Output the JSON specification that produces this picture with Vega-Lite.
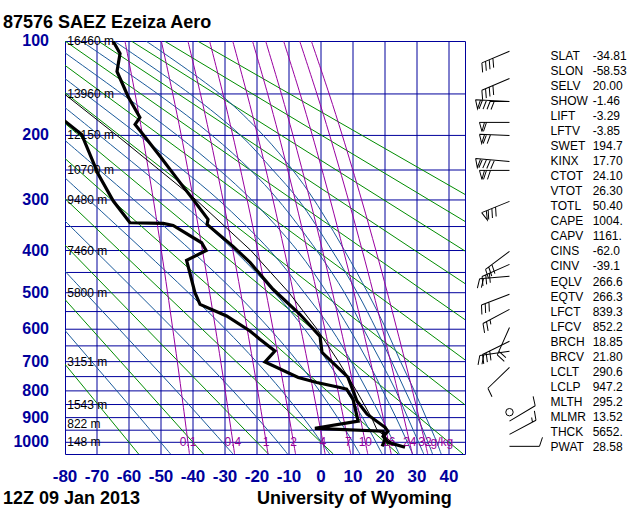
{
"$schema": "https://vega.github.io/schema/vega-lite/v6.json",
"width": 400, "height": 413,
"autosize": {"type": "none"},
"padding": {"left": 65, "top": 41, "right": 175, "bottom": 58},
"background": "white",
"config": {"view": {"stroke": "#00009C", "strokeWidth": 1}, "font": "Liberation Sans"},
"datasets": {
"hgrid": [{"p":150},{"p":200},{"p":250},{"p":300},{"p":350},{"p":400},{"p":450},{"p":500},{"p":550},{"p":600},{"p":650},{"p":700},{"p":750},{"p":800},{"p":850},{"p":900},{"p":950},{"p":1000}],
"vgrid": [{"T":-70},{"T":-60},{"T":-50},{"T":-40},{"T":-30},{"T":-20},{"T":-10},{"T":0},{"T":10},{"T":20},{"T":30},{"T":40}],
"ylab": [{"p":100,"lab":"100"},{"p":200,"lab":"200"},{"p":300,"lab":"300"},{"p":400,"lab":"400"},{"p":500,"lab":"500"},{"p":600,"lab":"600"},{"p":700,"lab":"700"},{"p":800,"lab":"800"},{"p":900,"lab":"900"},{"p":1000,"lab":"1000"}],
"xlab": [{"T":-80,"lab":"-80"},{"T":-70,"lab":"-70"},{"T":-60,"lab":"-60"},{"T":-50,"lab":"-50"},{"T":-40,"lab":"-40"},{"T":-30,"lab":"-30"},{"T":-20,"lab":"-20"},{"T":-10,"lab":"-10"},{"T":0,"lab":"0"},{"T":10,"lab":"10"},{"T":20,"lab":"20"},{"T":30,"lab":"30"},{"T":40,"lab":"40"}],
"dry": [
{"th":-60,"p":1050,"T":-57.0},{"th":-60,"p":100,"T":-162.82},
{"th":-40,"p":1050,"T":-36.72},{"th":-40,"p":100,"T":-152.46},
{"th":-20,"p":1050,"T":-16.44},{"th":-20,"p":100,"T":-142.11},
{"th":0,"p":1050,"T":3.85},{"th":0,"p":100,"T":-131.76},
{"th":20,"p":1050,"T":24.13},{"th":20,"p":100,"T":-121.41},
{"th":40,"p":1050,"T":44.41},{"th":40,"p":100,"T":-111.05},
{"th":60,"p":1050,"T":64.69},{"th":60,"p":100,"T":-100.70},
{"th":80,"p":1050,"T":84.97},{"th":80,"p":100,"T":-90.35},
{"th":100,"p":1050,"T":105.25},{"th":100,"p":100,"T":-80.0},
{"th":120,"p":1050,"T":125.54},{"th":120,"p":100,"T":-69.64},
{"th":140,"p":1050,"T":145.82},{"th":140,"p":100,"T":-59.29},
{"th":160,"p":1050,"T":166.10},{"th":160,"p":100,"T":-48.94},
{"th":180,"p":1050,"T":186.38},{"th":180,"p":100,"T":-38.59}],
"moist": [
{"te":-50,"p":1050,"T":-47.0},{"te":-50,"p":1000,"T":-50.1},{"te":-50,"p":900,"T":-56.62},{"te":-50,"p":800,"T":-63.8},{"te":-50,"p":700,"T":-71.64},{"te":-50,"p":600,"T":-80.33},{"te":-50,"p":500,"T":-90.1},
{"te":-30,"p":1050,"T":-27.51},{"te":-30,"p":1000,"T":-30.75},{"te":-30,"p":900,"T":-37.65},{"te":-30,"p":800,"T":-45.2},{"te":-30,"p":700,"T":-53.67},{"te":-30,"p":600,"T":-63.05},{"te":-30,"p":500,"T":-73.72},{"te":-30,"p":400,"T":-86.06},
{"te":-10,"p":1050,"T":-10.45},{"te":-10,"p":1000,"T":-13.4},{"te":-10,"p":900,"T":-20.0},{"te":-10,"p":800,"T":-27.49},{"te":-10,"p":700,"T":-36.16},{"te":-10,"p":600,"T":-46.03},{"te":-10,"p":500,"T":-57.4},{"te":-10,"p":400,"T":-70.67},{"te":-10,"p":300,"T":-86.66},
{"te":10,"p":1050,"T":2.7},{"te":10,"p":1000,"T":0.15},{"te":10,"p":900,"T":-5.55},{"te":10,"p":800,"T":-12.2},{"te":10,"p":700,"T":-20.2},{"te":10,"p":600,"T":-29.81},{"te":10,"p":500,"T":-41.43},{"te":10,"p":400,"T":-55.41},{"te":10,"p":300,"T":-72.5},{"te":10,"p":250,"T":-82.68},
{"te":30,"p":1050,"T":12.15},{"te":30,"p":1000,"T":10.0},{"te":30,"p":900,"T":5.2},{"te":30,"p":800,"T":-0.47},{"te":30,"p":700,"T":-7.3},{"te":30,"p":600,"T":-15.9},{"te":30,"p":500,"T":-26.71},{"te":30,"p":400,"T":-40.59},{"te":30,"p":300,"T":-58.42},{"te":30,"p":250,"T":-69.25},{"te":30,"p":200,"T":-81.83},
{"te":50,"p":1050,"T":19.1},{"te":50,"p":1000,"T":17.2},{"te":50,"p":900,"T":13.0},{"te":50,"p":800,"T":8.0},{"te":50,"p":700,"T":2.1},{"te":50,"p":600,"T":-5.1},{"te":50,"p":500,"T":-14.5},{"te":50,"p":400,"T":-27.1},{"te":50,"p":300,"T":-44.71},{"te":50,"p":250,"T":-55.96},{"te":50,"p":200,"T":-69.25},{"te":50,"p":150,"T":-85.3},
{"te":70,"p":1050,"T":24.45},{"te":70,"p":1000,"T":22.7},{"te":70,"p":900,"T":18.85},{"te":70,"p":800,"T":14.45},{"te":70,"p":700,"T":9.45},{"te":70,"p":600,"T":3.3},{"te":70,"p":500,"T":-5.2},{"te":70,"p":400,"T":-15.95},{"te":70,"p":300,"T":-31.95},{"te":70,"p":250,"T":-43.15},{"te":70,"p":200,"T":-56.8},{"te":70,"p":150,"T":-73.72},{"te":70,"p":100,"T":-95.5},
{"te":90,"p":1050,"T":28.65},{"te":90,"p":1000,"T":27.0},{"te":90,"p":900,"T":23.45},{"te":90,"p":800,"T":19.3},{"te":90,"p":700,"T":14.7},{"te":90,"p":600,"T":8.95},{"te":90,"p":500,"T":1.9},{"te":90,"p":400,"T":-7.4},{"te":90,"p":300,"T":-21.65},{"te":90,"p":250,"T":-31.75},{"te":90,"p":200,"T":-44.9},{"te":90,"p":150,"T":-62.2},{"te":90,"p":100,"T":-85.17},
{"te":110,"p":1050,"T":32.1},{"te":110,"p":1000,"T":30.5},{"te":110,"p":900,"T":27.1},{"te":110,"p":800,"T":23.4},{"te":110,"p":700,"T":18.75},{"te":110,"p":600,"T":13.3},{"te":110,"p":500,"T":7.35},{"te":110,"p":400,"T":-1.35},{"te":110,"p":300,"T":-13.4},{"te":110,"p":250,"T":-22.05},{"te":110,"p":200,"T":-34.05},{"te":110,"p":150,"T":-51.0},{"te":110,"p":100,"T":-74.93},
{"te":130,"p":1050,"T":34.85},{"te":130,"p":1000,"T":33.45},{"te":130,"p":900,"T":30.2},{"te":130,"p":800,"T":26.35},{"te":130,"p":700,"T":22.1},{"te":130,"p":600,"T":17.25},{"te":130,"p":500,"T":11.35},{"te":130,"p":400,"T":3.45},{"te":130,"p":300,"T":-7.0},{"te":130,"p":250,"T":-15.05},{"te":130,"p":200,"T":-25.1},{"te":130,"p":150,"T":-40.9},{"te":130,"p":100,"T":-64.65},
{"te":150,"p":1050,"T":37.55},{"te":150,"p":1000,"T":36.2},{"te":150,"p":900,"T":32.85},{"te":150,"p":800,"T":29.2},{"te":150,"p":700,"T":24.85},{"te":150,"p":600,"T":20.35},{"te":150,"p":500,"T":14.6},{"te":150,"p":400,"T":7.35},{"te":150,"p":300,"T":-2.15},{"te":150,"p":250,"T":-8.85},{"te":150,"p":200,"T":-18.0},{"te":150,"p":150,"T":-31.6},{"te":150,"p":100,"T":-54.7}],
"mix": [
{"w":0.1,"p":1050,"T":-41.11},{"w":0.1,"p":850,"T":-43.11},{"w":0.1,"p":700,"T":-44.90},{"w":0.1,"p":500,"T":-47.94},{"w":0.1,"p":400,"T":-49.90},{"w":0.1,"p":300,"T":-52.37},{"w":0.1,"p":200,"T":-55.76},{"w":0.1,"p":150,"T":-58.09},{"w":0.1,"p":100,"T":-61.27},
{"w":0.4,"p":1050,"T":-27.00},{"w":0.4,"p":850,"T":-29.28},{"w":0.4,"p":700,"T":-31.33},{"w":0.4,"p":500,"T":-34.79},{"w":0.4,"p":400,"T":-37.03},{"w":0.4,"p":300,"T":-39.84},{"w":0.4,"p":200,"T":-43.67},{"w":0.4,"p":150,"T":-46.31},{"w":0.4,"p":100,"T":-49.90},
{"w":1,"p":1050,"T":-16.55},{"w":1,"p":850,"T":-19.05},{"w":1,"p":700,"T":-21.30},{"w":1,"p":500,"T":-25.09},{"w":1,"p":400,"T":-27.54},{"w":1,"p":300,"T":-30.61},{"w":1,"p":200,"T":-34.80},{"w":1,"p":150,"T":-37.67},{"w":1,"p":100,"T":-41.59},
{"w":2,"p":1050,"T":-7.96},{"w":2,"p":850,"T":-10.65},{"w":2,"p":700,"T":-13.07},{"w":2,"p":500,"T":-17.15},{"w":2,"p":400,"T":-19.77},{"w":2,"p":300,"T":-23.07},{"w":2,"p":200,"T":-27.56},{"w":2,"p":150,"T":-30.63},{"w":2,"p":100,"T":-34.82},
{"w":4,"p":1050,"T":1.29},{"w":4,"p":850,"T":-1.62},{"w":4,"p":700,"T":-4.23},{"w":4,"p":500,"T":-8.62},{"w":4,"p":400,"T":-11.45},{"w":4,"p":300,"T":-14.99},{"w":4,"p":200,"T":-19.81},{"w":4,"p":150,"T":-23.11},{"w":4,"p":100,"T":-27.59},
{"w":7,"p":1050,"T":9.27},{"w":7,"p":850,"T":6.17},{"w":7,"p":700,"T":3.39},{"w":7,"p":500,"T":-1.29},{"w":7,"p":400,"T":-4.29},{"w":7,"p":300,"T":-8.06},{"w":7,"p":200,"T":-13.17},{"w":7,"p":150,"T":-16.66},{"w":7,"p":100,"T":-21.41},
{"w":10,"p":1050,"T":14.61},{"w":10,"p":850,"T":11.37},{"w":10,"p":700,"T":8.48},{"w":10,"p":500,"T":3.61},{"w":10,"p":400,"T":0.48},{"w":10,"p":300,"T":-3.43},{"w":10,"p":200,"T":-8.75},{"w":10,"p":150,"T":-12.37},{"w":10,"p":100,"T":-17.30},
{"w":16,"p":1050,"T":21.94},{"w":16,"p":850,"T":18.52},{"w":16,"p":700,"T":15.46},{"w":16,"p":500,"T":10.32},{"w":16,"p":400,"T":7.02},{"w":16,"p":300,"T":2.90},{"w":16,"p":200,"T":-2.70},{"w":16,"p":150,"T":-6.51},{"w":16,"p":100,"T":-11.69},
{"w":24,"p":1050,"T":28.54},{"w":24,"p":850,"T":24.95},{"w":24,"p":700,"T":21.74},{"w":24,"p":500,"T":16.35},{"w":24,"p":400,"T":12.89},{"w":24,"p":300,"T":8.57},{"w":24,"p":200,"T":2.72},{"w":24,"p":150,"T":-1.27},{"w":24,"p":100,"T":-6.67},
{"w":32,"p":1050,"T":33.36},{"w":32,"p":850,"T":29.64},{"w":32,"p":700,"T":26.32},{"w":32,"p":500,"T":20.74},{"w":32,"p":400,"T":17.17},{"w":32,"p":300,"T":12.70},{"w":32,"p":200,"T":6.66},{"w":32,"p":150,"T":2.55},{"w":32,"p":100,"T":-3.03}],
"mixlab": [{"lab":"0.1","T":-41.57},{"lab":"0.4","T":-27.53},{"lab":"1","T":-17.13},{"lab":"2","T":-8.58},{"lab":"4","T":0.61},{"lab":"7","T":8.55},{"lab":"10","T":13.85},{"lab":"16","T":21.14},{"lab":"24","T":27.7},{"lab":"32","T":32.49},{"lab":"g/kg","T":37.8}],
"hts": [{"p":100,"h":"16460 m"},{"p":150,"h":"13960 m"},{"p":200,"h":"12150 m"},{"p":250,"h":"10700 m"},{"p":300,"h":"9480 m"},{"p":400,"h":"7460 m"},{"p":500,"h":"5800 m"},{"p":700,"h":"3151 m"},{"p":850,"h":"1543 m"},{"p":925,"h":"822 m"},{"p":1000,"h":"148 m"}],
"parcel": [{"p":1015,"T":23.3},{"p":947,"T":17.45},{"p":900,"T":15.8},{"p":850,"T":13.5},{"p":800,"T":11.1},{"p":700,"T":5.5},{"p":600,"T":-1.2},{"p":500,"T":-10.0},{"p":400,"T":-21.9},{"p":300,"T":-39.0},{"p":250,"T":-50.5},{"p":200,"T":-63.8},{"p":150,"T":-80.2}],
"temp": [{"p":100,"T":-65.0},{"p":110.5,"T":-62.8},{"p":127,"T":-63.75},{"p":152.7,"T":-60.3},{"p":177,"T":-56.6},{"p":185.8,"T":-58.1},{"p":198.7,"T":-55.6},{"p":229.3,"T":-50.3},{"p":269.9,"T":-44.1},{"p":298.9,"T":-40.0},{"p":336,"T":-35.3},{"p":345.7,"T":-35.6},{"p":391,"T":-27.5},{"p":426.6,"T":-22.2},{"p":491.3,"T":-15.0},{"p":557.5,"T":-6.6},{"p":621,"T":-0.3},{"p":670,"T":0.3},{"p":752,"T":8.4},{"p":837,"T":11.25},{"p":886.7,"T":14.4},{"p":938.3,"T":20.0},{"p":954.3,"T":20.9},{"p":975,"T":19.4},{"p":1000,"T":20.9},{"p":1021,"T":26.25}],
"dew": [{"p":175.2,"T":-82.2},{"p":181.7,"T":-80.0},{"p":198.7,"T":-74.8},{"p":256.9,"T":-69.6},{"p":302,"T":-64.9},{"p":342.5,"T":-59.7},{"p":343.8,"T":-49.3},{"p":347.8,"T":-46.2},{"p":383.3,"T":-37.3},{"p":399.9,"T":-35.9},{"p":422.1,"T":-42.0},{"p":499.8,"T":-39.4},{"p":530.5,"T":-37.8},{"p":562.3,"T":-29.5},{"p":605.2,"T":-22.2},{"p":629.8,"T":-19.1},{"p":665.9,"T":-14.4},{"p":701,"T":-17.5},{"p":753,"T":-7.1},{"p":770.3,"T":-1.3},{"p":788,"T":5.9},{"p":794.1,"T":8.0},{"p":829.6,"T":10.0},{"p":914,"T":11.6},{"p":942.3,"T":-1.9},{"p":954,"T":19.4},{"p":987.4,"T":20.0},{"p":1017,"T":19.1}],
"barbs": [{"p":108.5,"dir":247,"kt":40},{"p":133.9,"dir":247,"kt":40},{"p":158.3,"dir":273,"kt":90},{"p":183.2,"dir":270,"kt":60},{"p":200,"dir":272,"kt":70},{"p":236.8,"dir":275,"kt":90},{"p":250.6,"dir":270,"kt":70},{"p":302.5,"dir":248,"kt":80},{"p":401.8,"dir":233,"kt":30},{"p":431,"dir":246,"kt":30},{"p":459,"dir":265,"kt":20},{"p":504,"dir":249,"kt":30},{"p":544,"dir":242,"kt":25},{"p":595,"dir":204,"kt":20},{"p":636,"dir":244,"kt":30},{"p":667,"dir":262,"kt":20},{"p":719,"dir":226,"kt":10},{"p":914,"dir":59,"kt":10},{"p":967,"dir":62,"kt":15},{"p":1017,"dir":90,"kt":10}],
"calm": [{"p":879}],
"stats": [{"names": ["SLAT","SLON","SELV","SHOW","LIFT","LFTV","SWET","KINX","CTOT","VTOT","TOTL","CAPE","CAPV","CINS","CINV","EQLV","EQTV","LFCT","LFCV","BRCH","BRCV","LCLT","LCLP","MLTH","MLMR","THCK","PWAT"],
            "vals": ["-34.81","-58.53","20.00","-1.46","-3.29","-3.85","194.7","17.70","24.10","26.30","50.40","1004.","1161.","-62.0","-39.1","266.6","266.3","839.3","852.2","18.85","21.80","290.6","947.2","295.2","13.52","5652.","28.58"]}],
"texts": [{"t":"87576 SAEZ Ezeiza Aero","T":-99.4,"p":89.5},{"t":"12Z 09 Jan 2013","T":-99.4,"p":1286},{"t":"University of Wyoming","T":-20.0,"p":1286}]
},
"layer": [
 {"data": {"name": "hgrid"}, "mark": {"type": "rule", "color": "#00009C", "strokeWidth": 1},
  "encoding": {"y": {"field": "p", "type": "quantitative",
     "scale": {"type": "pow", "exponent": 0.286, "domain": [100, 1050], "reverse": true, "nice": false, "zero": false}, "axis": null}}},
 {"data": {"name": "vgrid"}, "mark": {"type": "rule", "color": "#00009C", "strokeWidth": 1},
  "encoding": {"x": {"field": "T", "type": "quantitative", "scale": {"domain": [-80, 45], "nice": false, "zero": false}, "axis": null}}},
 {"data": {"name": "ylab"}, "mark": {"type": "text", "align": "right", "baseline": "middle", "fontSize": 16, "fontWeight": "bold", "font": "Liberation Sans", "color": "#00009C"},
  "encoding": {"x": {"datum": -85, "type": "quantitative", "axis": null}, "y": {"field": "p", "type": "quantitative", "axis": null}, "text": {"field": "lab"}}},
 {"data": {"name": "xlab"}, "mark": {"type": "text", "align": "center", "baseline": "alphabetic", "fontSize": 17, "fontWeight": "bold", "font": "Liberation Sans", "color": "#00009C"},
  "encoding": {"x": {"field": "T", "type": "quantitative", "axis": null}, "y": {"datum": 1176, "type": "quantitative", "axis": null}, "text": {"field": "lab"}}},
 {"data": {"name": "dry"}, "mark": {"type": "line", "color": "#008C00", "strokeWidth": 1, "clip": true},
  "encoding": {"x": {"field": "T", "type": "quantitative", "axis": null}, "y": {"field": "p", "type": "quantitative", "axis": null}, "detail": {"field": "th"}, "order": {"field": "p"}}},
 {"data": {"name": "moist"}, "mark": {"type": "line", "color": "#1A5A9A", "strokeWidth": 1, "clip": true, "interpolate": "catmull-rom"},
  "encoding": {"x": {"field": "T", "type": "quantitative", "axis": null}, "y": {"field": "p", "type": "quantitative", "axis": null}, "detail": {"field": "te"}, "order": {"field": "p"}}},
 {"data": {"name": "mix"}, "mark": {"type": "line", "color": "#9900A0", "strokeWidth": 1, "clip": true, "interpolate": "catmull-rom"},
  "encoding": {"x": {"field": "T", "type": "quantitative", "axis": null}, "y": {"field": "p", "type": "quantitative", "axis": null}, "detail": {"field": "w"}, "order": {"field": "p"}}},
 {"data": {"name": "mixlab"}, "mark": {"type": "text", "color": "#990099", "fontSize": 12, "font": "Liberation Sans", "align": "center", "baseline": "middle"},
  "encoding": {"x": {"field": "T", "type": "quantitative", "axis": null}, "y": {"datum": 1000, "type": "quantitative", "axis": null}, "text": {"field": "lab"}}},
 {"data": {"name": "hts"}, "mark": {"type": "text", "color": "black", "fontSize": 12, "font": "Liberation Sans", "align": "left", "baseline": "middle"},
  "encoding": {"x": {"datum": -79.3, "type": "quantitative", "axis": null}, "y": {"field": "p", "type": "quantitative", "axis": null}, "text": {"field": "h"}}},
 {"data": {"name": "parcel"}, "mark": {"type": "line", "color": "black", "strokeWidth": 1, "clip": true},
  "encoding": {"x": {"field": "T", "type": "quantitative", "axis": null}, "y": {"field": "p", "type": "quantitative", "axis": null}, "order": {"field": "p"}}},
 {"data": {"name": "temp"}, "mark": {"type": "line", "color": "black", "strokeWidth": 3.2, "clip": true, "strokeJoin": "miter"},
  "encoding": {"x": {"field": "T", "type": "quantitative", "axis": null}, "y": {"field": "p", "type": "quantitative", "axis": null}, "order": {"field": "p"}}},
 {"data": {"name": "dew"}, "mark": {"type": "line", "color": "black", "strokeWidth": 3.2, "clip": true, "strokeJoin": "miter"},
  "encoding": {"x": {"field": "T", "type": "quantitative", "axis": null}, "y": {"field": "p", "type": "quantitative", "axis": null}, "order": {"field": "p"}}},
 {"data": {"name": "barbs"}, "mark": {"type": "point", "filled": false, "stroke": "black", "strokeWidth": 1, "opacity": 1, "size": 4},
  "encoding": {"x": {"datum": 58.9, "type": "quantitative", "axis": null}, "y": {"field": "p", "type": "quantitative", "axis": null},
    "shape": {"field": "kt", "type": "nominal", "legend": null, "scale": {"domain": [10,15,20,25,30,40,60,70,80,90], "range": [
      "M0,0L-30,0M-30,0L-33,9",
      "M0,0L-30,0M-30,0L-33,9M-26,0L-27.5,4.5",
      "M0,0L-30,0M-30,0L-33,9M-26,0L-29,9",
      "M0,0L-30,0M-30,0L-33,9M-26,0L-29,9M-22,0L-23.5,4.5",
      "M0,0L-30,0M-30,0L-33,9M-26,0L-29,9M-22,0L-25,9",
      "M0,0L-30,0M-30,0L-33,9M-26,0L-29,9M-22,0L-25,9M-18,0L-21,9",
      "M0,0L-30,0M-30,0L-27.5,9L-25,0M-23,0L-26,9",
      "M0,0L-30,0M-30,0L-27.5,9L-25,0M-23,0L-26,9M-19,0L-22,9",
      "M0,0L-30,0M-30,0L-27.5,9L-25,0M-23,0L-26,9M-19,0L-22,9M-15,0L-18,9",
      "M0,0L-34,0M-34,0L-31.5,9L-29,0M-27,0L-30,9M-23,0L-26,9M-19,0L-22,9M-15,0L-18,9"]}},
    "angle": {"field": "dir", "type": "quantitative", "scale": {"domain": [270, 630], "range": [0, 360], "nice": false, "zero": false, "clamp": false}, "legend": null}}},
 {"data": {"name": "calm"}, "mark": {"type": "point", "shape": "circle", "filled": false, "stroke": "black", "strokeWidth": 1, "opacity": 1, "size": 55},
  "encoding": {"x": {"datum": 58.9, "type": "quantitative", "axis": null}, "y": {"field": "p", "type": "quantitative", "axis": null}}},
 {"data": {"name": "stats"}, "mark": {"type": "text", "align": "left", "baseline": "alphabetic", "fontSize": 12, "font": "Liberation Sans", "color": "black", "lineHeight": 15.02},
  "encoding": {"x": {"datum": 71.75, "type": "quantitative", "axis": null}, "y": {"datum": 116.5, "type": "quantitative", "axis": null}, "text": {"field": "names"}}},
 {"data": {"name": "stats"}, "mark": {"type": "text", "align": "left", "baseline": "alphabetic", "fontSize": 12, "font": "Liberation Sans", "color": "black", "lineHeight": 15.02},
  "encoding": {"x": {"datum": 84.9, "type": "quantitative", "axis": null}, "y": {"datum": 116.5, "type": "quantitative", "axis": null}, "text": {"field": "vals"}}},
 {"data": {"name": "texts"}, "mark": {"type": "text", "align": "left", "baseline": "alphabetic", "fontSize": 18, "fontWeight": "bold", "font": "Liberation Sans", "color": "black"},
  "encoding": {"x": {"field": "T", "type": "quantitative", "axis": null}, "y": {"field": "p", "type": "quantitative", "axis": null}, "text": {"field": "t"}}}
]
}
